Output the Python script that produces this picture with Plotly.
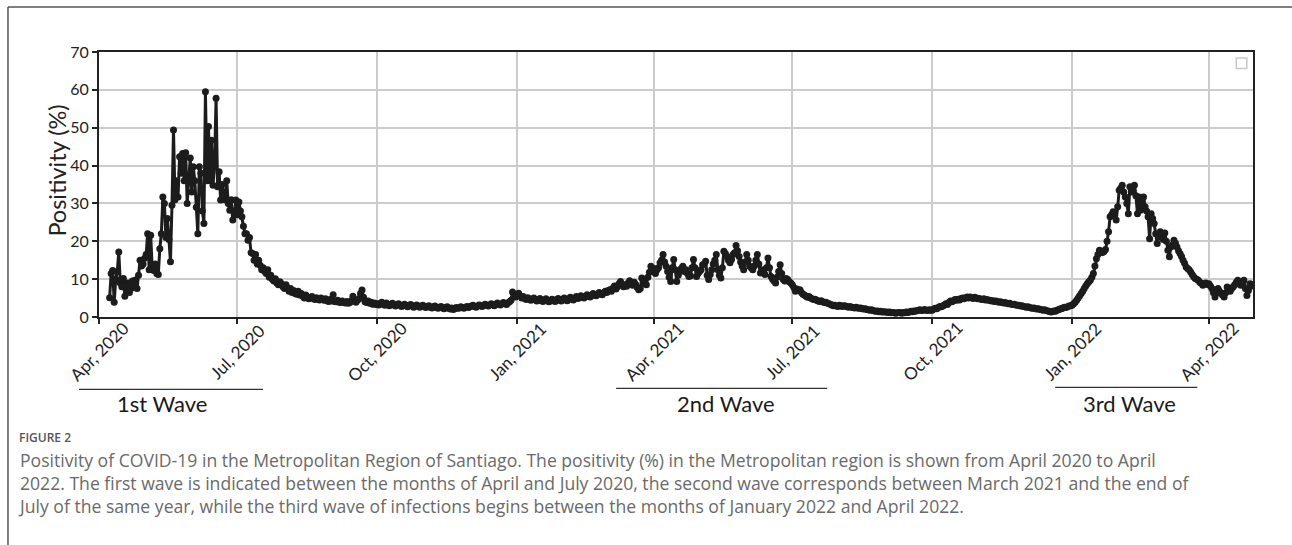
import pandas as pd
import plotly.graph_objects as go

# ---- data: daily positivity (%) ----
wave1_2020_start = "2020-04-08"
wave1_2020 = [
    5.1, 11.5, 12.3, 3.9, 10, 12, 17.2, 9, 8, 10.2, 5.5, 7, 9, 6.5, 7.5, 9.5, 8, 9.8, 7.5, 11, 15, 13.5, 14,
    15.5, 16.5, 22, 12.5, 21.6, 13, 12.3, 14, 11.5, 11.2, 18, 22, 31.7, 30, 21, 26, 20.5, 14.6, 29.5, 49.4,
    31, 36, 31.7, 42.3, 38, 43.2, 36, 43.4, 30, 36, 42,
    33, 39.7, 36, 29, 22, 39.7, 38, 28, 24.7, 59.5, 36, 50.3, 36, 46.7, 34.8, 40, 57.8, 34.4, 38.4, 30.9,
    35, 32.6, 31, 36, 30, 28.2, 31, 25.6, 27, 30.9,
    27, 30.4, 28, 26.5, 24, 22, 22, 20.3, 21, 17, 16.8, 15, 16.5, 14, 15, 13.7, 12.5, 13, 12, 11.5, 12.5,
    10.5, 11, 10, 9.5, 10.1, 9, 8.5, 9.3, 8.8, 8,
    7.5, 8.5, 7.6, 6.8, 7.5, 6.5, 7, 6.2, 6, 6.8, 5.8, 6.2, 5.5, 5, 5.8, 5.2, 4.8, 5, 5.4, 4.9, 4.6, 5.1,
    4.7, 4.5, 5, 4.6, 4.4, 4.8, 4.3, 4.1, 4.6,
    4.2, 5.9, 4.1, 4, 4.4, 3.9, 3.8, 4.2, 3.8, 3.7, 4.1, 3.6, 3.8, 4.3, 5.5, 4.2, 3.9, 4.4, 4.8, 6.2, 7.1,
    5.2, 4.0, 3.8, 4.2, 3.6, 3.9, 3.4, 3.7, 3.3,
]

lull_2020_start = "2020-10-01"
lull_2020 = [
    3.5, 3.2, 3.6, 3.9, 3.4, 3.1, 3.7, 3.3, 3.0, 3.4, 3.6, 3.2, 2.9, 3.3, 3.5, 3.1, 2.8, 3.2, 3.4, 3.0,
    2.7, 3.1, 3.3, 2.9, 2.6, 3.0, 3.2, 2.8, 2.6, 2.9, 3.1,
    2.7, 2.5, 2.8, 3.0, 2.6, 2.4, 2.7, 2.9, 2.5, 2.3, 2.6, 2.8, 2.4, 2.2, 2.5, 2.7, 2.3, 2.1, 2.4, 2.0,
    2.2, 2.5, 2.3, 2.4, 2.7, 2.5, 2.3, 2.6, 2.8, 2.5,
    2.7, 2.9, 3.1, 2.8, 2.6, 2.9, 3.2, 3.0, 2.8, 3.1, 3.4, 3.1, 2.9, 3.2, 3.5, 3.3, 3.0, 3.4, 3.7, 3.4,
    3.2, 3.5, 3.8, 3.5, 3.3, 3.7, 4.0, 4.4, 6.6, 5.5, 5.3,
    5.8, 6.3, 5.6, 5.0, 5.4, 4.9, 4.6, 5.1, 4.8, 4.4, 4.7, 5.0, 4.5, 4.2, 4.6, 4.9, 4.3, 4.1, 4.5, 4.8,
    4.2, 4.0, 4.4, 4.7, 4.3, 4.1, 4.6, 4.9, 4.4, 4.2, 4.7,
    5.0, 4.5, 4.3, 4.8, 5.2, 4.7, 4.5, 5.0, 5.4, 4.9, 5.1, 5.6, 5.2, 5.0, 5.5, 5.9, 5.4, 5.3, 5.8, 6.2,
    5.7, 5.6, 6.1, 6.5, 6.0, 5.9, 6.4, 6.8,
]

wave2_2021_start = "2021-03-01"
wave2_2021 = [
    6.5, 7.0, 7.2, 6.8, 7.6, 8.2, 7.4, 8.0, 8.8, 9.4, 8.6, 8.0, 8.5, 8.1, 9.0, 9.6, 9.0, 8.4, 9.2, 8.6,
    7.8, 7.2, 7.5, 10.3, 9.4, 8.8, 8.5, 10.5, 11.8, 13.4, 12.0,
    12.8, 11.5, 12.5, 13.0, 14.3, 15.0, 16.5, 14.5, 13.4, 12.0, 10.5, 9.4, 13.0, 15.2, 12.5, 9.4, 11.0,
    12.0, 12.8, 13.4, 12.0, 12.5, 11.5, 10.7, 10.9, 13.0, 15.2, 13.0, 10.7, 11.5,
    12.0, 12.5, 13.8, 14.0, 14.7, 11.0, 9.9, 11.2, 12.5, 14.0, 15.0, 16.5, 12.5, 11.0, 10.3, 13.0, 17.4,
    16.8, 16.0, 15.0, 14.3, 15.2, 16.5, 17.0, 18.9, 17.5, 16.0, 14.5, 13.5, 12.5, 14.5,
    16.5, 15.0, 13.4, 13.0, 12.5, 13.5, 15.0, 16.5, 14.0, 11.6, 12.5, 11.8, 11.2, 13.0, 15.6, 13.0, 10.7,
    10.0, 9.5, 9.0, 10.5, 12.0, 13.8, 11.5, 9.9, 9.5, 10.2, 9.9, 9.3, 9.0,
    8.5, 7.8, 6.8, 7.4, 7.0, 7.2, 6.5, 6.0, 5.8, 5.5, 5.2, 5.4, 5.0, 4.8, 4.6, 4.7, 4.4, 4.2, 4.1, 4.3,
    4.0, 3.8, 3.9, 3.7, 3.5, 3.4, 3.2, 3.0, 3.1, 2.9, 2.8,
]

lull_2021_start = "2021-08-01"
lull_2021 = [
    3.1, 3.0, 2.8, 3.0, 2.9, 2.7, 2.6, 2.8, 2.6, 2.5, 2.4, 2.6, 2.4, 2.3, 2.4, 2.2, 2.1, 2.2, 2.0, 1.9,
    1.8, 1.9, 1.7, 1.6, 1.5, 1.6, 1.4, 1.5, 1.3, 1.4, 1.3,
    1.3, 1.2, 1.3, 1.1, 1.2, 1.1, 1.0, 1.1, 1.2, 1.1, 1.0, 1.2, 1.1, 1.3, 1.2, 1.3, 1.5, 1.4, 1.6, 1.5,
    1.7, 1.8, 1.9, 1.7, 1.8, 2.0, 1.8, 1.7, 1.9, 1.8,
    1.8, 2.1, 2.3, 2.2, 2.5, 2.8, 2.7, 2.9, 3.2, 3.5, 3.3, 3.8, 4.2, 4.0, 4.3, 4.6, 4.4, 4.7, 4.5, 4.9,
    5.0, 4.8, 5.1, 5.3, 5.0, 5.3, 5.1, 4.9, 5.2, 5.0, 4.8,
    4.9, 4.7, 4.6, 4.8, 4.5, 4.6, 4.4, 4.4, 4.2, 4.3, 4.1, 4.2, 4.0, 3.9, 4.0, 3.8, 3.7, 3.8, 3.6, 3.5,
    3.6, 3.4, 3.3, 3.4, 3.2, 3.1, 3.1, 2.9, 3.0, 2.8,
    2.7, 2.6, 2.7, 2.5, 2.4, 2.3, 2.4, 2.2, 2.1, 2.2, 2.0, 1.9, 1.8, 1.9, 1.7, 1.6, 1.5, 1.3, 1.4, 1.6,
    1.5, 1.8, 1.9, 2.1, 2.2, 2.4, 2.6, 2.5, 2.7, 2.9, 3.0,
]

wave3_2022_start = "2022-01-01"
wave3_2022 = [
    3.1, 3.5, 3.9, 4.4, 5.0, 5.6, 6.2, 6.8, 7.5, 8.2, 8.8, 9.3, 9.7, 10.5, 11.5, 13.5, 15.4, 16.5, 17.6,
    17.4, 17.0, 17.3, 17.8, 20.0, 22.5, 26.5, 27.0, 27.8, 26.8, 25.6, 29.1,
    33.5, 34.0, 34.8, 33.0, 31.7, 30.0, 27.3, 34.4, 33.0, 33.5, 34.8, 32.0, 27.3, 31.7, 28.2, 30.5, 31.7,
    29.1, 28.0, 26.5, 20.7, 27.3, 26.0, 24.7, 22.0, 19.4, 21.5, 22.5,
    21.0, 20.5, 22.2, 20.0, 17.6, 15.9, 18.5, 19.0, 20.3, 19.5, 18.5, 17.5, 16.8, 16.0, 15.0, 14.2, 13.2,
    12.8, 12.5, 11.9, 11.2, 10.6, 10.2, 10.0, 9.7, 9.2, 8.9, 8.4, 8.8, 9.0, 8.6,
    8.8, 8.2, 7.5, 6.4, 5.3, 6.5, 7.5, 6.8, 6.2, 5.8, 5.3, 6.4, 7.9, 7.2, 6.8, 7.5, 8.0, 8.5, 9.2, 9.7,
    9.0, 8.4, 9.0, 9.7, 7.5, 5.7, 7.0, 8.8, 8.2, 8.5,
]

tick_dates = ["2020-04-01", "2020-07-01", "2020-10-01", "2021-01-01", "2021-04-01",
              "2021-07-01", "2021-10-01", "2022-01-01", "2022-04-01"]
tick_labels = ["Apr, 2020", "Jul, 2020", "Oct, 2020", "Jan, 2021", "Apr, 2021",
               "Jul, 2021", "Oct, 2021", "Jan, 2022", "Apr, 2022"]
y_ticks = [0, 10, 20, 30, 40, 50, 60, 70]
wave_labels = ["1st Wave", "2nd Wave", "3rd Wave"]

segments = [(wave1_2020_start, wave1_2020), (lull_2020_start, lull_2020),
            (wave2_2021_start, wave2_2021), (lull_2021_start, lull_2021),
            (wave3_2022_start, wave3_2022)]
dates, values = [], []
for start, vals in segments:
    dates.extend(pd.date_range(start, periods=len(vals), freq="D"))
    values.extend(vals)

FONT = "Lato"
INK = "#1c1c1c"

fig = go.Figure()
fig.add_trace(go.Scatter(
    x=dates, y=values, mode="lines+markers",
    line=dict(color=INK, width=3),
    marker=dict(color=INK, size=7),
    showlegend=False,
))

L, R, T, B = 99, 1252.7, 52, 316.7
W, H = R - L, B - T


def px(x):
    return (x - L) / W


def py(y):
    return (B - y) / H


shapes = []
# figure frame (top and left rules)
shapes.append(dict(type="line", xref="paper", yref="paper", x0=px(8), x1=px(1300), y0=py(7), y1=py(7),
                   line=dict(color="#555555", width=1.5)))
shapes.append(dict(type="line", xref="paper", yref="paper", x0=px(8), x1=px(8), y0=py(7), y1=py(560),
                   line=dict(color="#555555", width=1.5)))
# wave underlines
for x0, x1, y in [(79, 263, 389), (616, 827, 388), (1055, 1197, 387)]:
    shapes.append(dict(type="line", xref="paper", yref="paper", x0=px(x0), x1=px(x1), y0=py(y), y1=py(y),
                       line=dict(color="#333333", width=1.2)))
# empty legend box
shapes.append(dict(type="rect", xref="paper", yref="paper", x0=px(1236), x1=px(1246.5), y0=py(68.5),
                   y1=py(58), line=dict(color="#c8c8c8", width=1.5)))

annotations = []
# rotated x tick labels, centred on their ticks
for d, lab in zip(tick_dates, tick_labels):
    annotations.append(dict(text=lab, xref="x", yref="paper", x=d, y=py(351),
                            xanchor="center", yanchor="middle", textangle=-45, showarrow=False,
                            font=dict(family=FONT, size=17, color="#222222")))
# y axis title
annotations.append(dict(text="Positivity (%)", xref="paper", yref="paper", x=px(57.5), y=py(170),
                        xanchor="center", yanchor="middle", textangle=-90, showarrow=False,
                        font=dict(family=FONT, size=23.5, color="#222222")))
for text, xc in zip(wave_labels, [162, 726, 1129]):
    annotations.append(dict(text=text, xref="paper", yref="paper", x=px(xc), y=py(403),
                            xanchor="center", yanchor="middle", showarrow=False,
                            font=dict(family=FONT, size=22, color="#1a1a1a")))
annotations.append(dict(text="FIGURE 2", xref="paper", yref="paper", x=px(17), y=py(437),
                        xanchor="left", yanchor="middle", showarrow=False,
                        font=dict(family="Open Sans", size=12, color="#555555", weight=600)))
caption = [
    "Positivity of COVID-19 in the Metropolitan Region of Santiago. The positivity (%) in the Metropolitan region is shown from April 2020 to April",
    "2022. The first wave is indicated between the months of April and July 2020, the second wave corresponds between March 2021 and the end of",
    "July of the same year, while the third wave of infections begins between the months of January 2022 and April 2022.",
]
annotations.append(dict(text="<br>".join(caption), xref="paper", yref="paper", x=px(16), y=py(482.5),
                        xanchor="left", yanchor="middle", align="left", showarrow=False,
                        font=dict(family="Open Sans", size=17.6, color="#6a6a6a")))

fig.update_layout(
    width=1292, height=545,
    margin=dict(l=L, r=1292 - R, t=T, b=545 - B, autoexpand=False),
    paper_bgcolor="white", plot_bgcolor="white",
    font=dict(family=FONT, color="#222222"),
    shapes=shapes, annotations=annotations,
    showlegend=False,
)
fig.update_xaxes(
    type="date", range=["2020-04-01", "2022-04-30"],
    tickmode="array", tickvals=tick_dates, showticklabels=False,
    showgrid=True, gridcolor="#cccccc", gridwidth=1.5,
    showline=True, linecolor="#222222", linewidth=2, mirror=True,
    ticks="outside", ticklen=5, tickcolor="#222222", tickwidth=1.5,
    zeroline=False, automargin=False,
)
fig.update_yaxes(
    range=[0, 70], tickmode="array", tickvals=y_ticks,
    tickfont=dict(family=FONT, size=16, color="#222222"),
    showgrid=True, gridcolor="#cccccc", gridwidth=1.5,
    showline=True, linecolor="#222222", linewidth=2, mirror=True,
    ticks="outside", ticklen=5, tickcolor="#222222", tickwidth=1.5,
    zeroline=False, automargin=False,
)

fig.write_html("out.html", config={"displayModeBar": False},
               post_script="document.body.style.margin='0px';")
